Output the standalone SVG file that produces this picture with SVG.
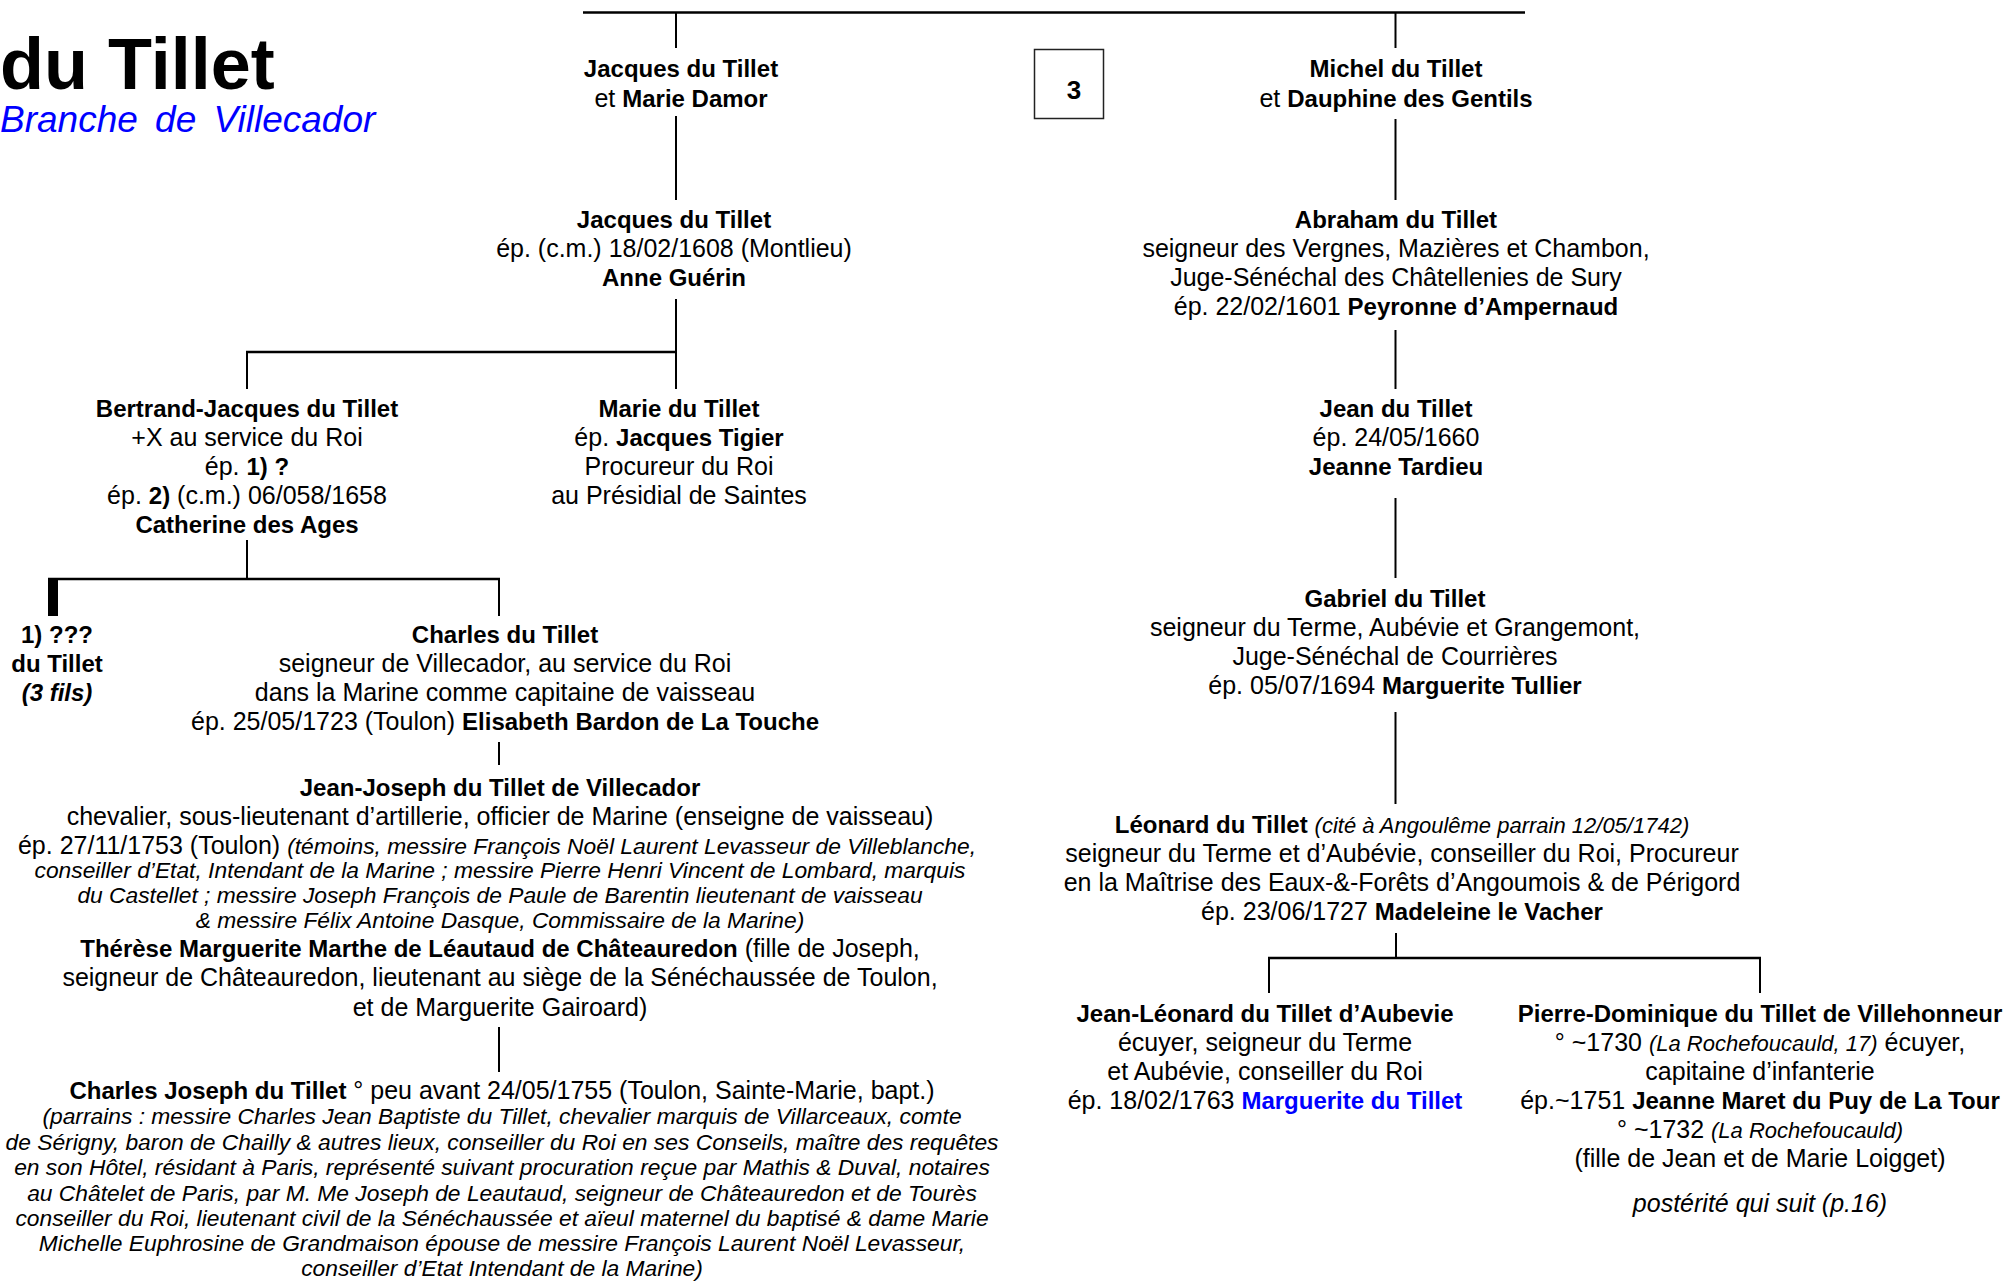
<svg xmlns="http://www.w3.org/2000/svg" width="2005" height="1283" viewBox="0 0 2005 1283">
<style>
text{font-family:"Liberation Sans",Arial,sans-serif;font-size:25px;fill:#000}
.t{text-anchor:middle}
.b{font-weight:bold;font-size:24px}
.i{font-style:italic}
.s{font-size:22.8px}
.s2{font-size:22px}
.blue{fill:#0000ff}
.ln{stroke:#000;stroke-width:2;fill:none}
.lw{stroke:#000;stroke-width:2.5;fill:none}
</style>
<rect width="2005" height="1283" fill="#fff"/>
<g id="title">
<text x="0" y="89" style="font-size:72px;font-weight:bold">du Tillet</text>
<text x="0" y="132" class="i blue" style="font-size:37px;word-spacing:7px">Branche de Villecador</text>
</g>
<g id="connectors">
<line class="lw" x1="583" y1="12.5" x2="1525" y2="12.5"/>
<line class="ln" x1="676" y1="12" x2="676" y2="48"/>
<line class="ln" x1="676" y1="116" x2="676" y2="200"/>
<line class="ln" x1="676" y1="299" x2="676" y2="389"/>
<line class="lw" x1="246" y1="352" x2="677" y2="352"/>
<line class="ln" x1="247" y1="352" x2="247" y2="389"/>
<line class="ln" x1="247" y1="540" x2="247" y2="579"/>
<line class="lw" x1="48" y1="579" x2="500" y2="579"/>
<rect x="48" y="578" width="10" height="38" fill="#000"/>
<line class="ln" x1="499" y1="579" x2="499" y2="616"/>
<line class="ln" x1="499" y1="742" x2="499" y2="765"/>
<line class="ln" x1="499" y1="1027" x2="499" y2="1072"/>
<line class="ln" x1="1395.5" y1="12" x2="1395.5" y2="48"/>
<line class="ln" x1="1395.5" y1="119" x2="1395.5" y2="200"/>
<line class="ln" x1="1395.5" y1="330" x2="1395.5" y2="389"/>
<line class="ln" x1="1395.5" y1="498" x2="1395.5" y2="578"/>
<line class="ln" x1="1395.5" y1="712" x2="1395.5" y2="804"/>
<line class="ln" x1="1396" y1="933" x2="1396" y2="958"/>
<line class="lw" x1="1268" y1="958" x2="1761" y2="958"/>
<line class="ln" x1="1269" y1="958" x2="1269" y2="993"/>
<line class="ln" x1="1760" y1="958" x2="1760" y2="993"/>
</g>
<g id="box3">
<rect x="1034.5" y="49.5" width="69" height="69" fill="#fff" stroke="#222" stroke-width="1.5"/>
<text x="1074" y="99" class="t" style="font-size:26px;font-weight:bold">3</text>
</g>
<g id="jacques-marie-damor">
<text x="681" y="77" class="t b">Jacques du Tillet</text>
<text x="681" y="107" class="t">et <tspan class="b">Marie Damor</tspan></text>
</g>
<g id="jacques-anne-guerin">
<text x="674" y="228" class="t b">Jacques du Tillet</text>
<text x="674" y="257" class="t">ép. (c.m.) 18/02/1608 (Montlieu)</text>
<text x="674" y="286" class="t b">Anne Guérin</text>
</g>
<g id="bertrand-jacques">
<text x="247" y="417" class="t b">Bertrand-Jacques du Tillet</text>
<text x="247" y="446" class="t">+X au service du Roi</text>
<text x="247" y="475" class="t">ép. <tspan class="b">1) ?</tspan></text>
<text x="247" y="504" class="t">ép. <tspan class="b">2)</tspan> (c.m.) 06/058/1658</text>
<text x="247" y="533" class="t b">Catherine des Ages</text>
</g>
<g id="marie-du-tillet">
<text x="679" y="417" class="t b">Marie du Tillet</text>
<text x="679" y="446" class="t">ép. <tspan class="b">Jacques Tigier</tspan></text>
<text x="679" y="475" class="t">Procureur du Roi</text>
<text x="679" y="504" class="t">au Présidial de Saintes</text>
</g>
<g id="fils-1">
<text x="57" y="643" class="t b">1) ???</text>
<text x="57" y="672" class="t b">du Tillet</text>
<text x="57" y="701" class="t b i">(3 fils)</text>
</g>
<g id="charles-du-tillet">
<text x="505" y="643" class="t b">Charles du Tillet</text>
<text x="505" y="672" class="t">seigneur de Villecador, au service du Roi</text>
<text x="505" y="701" class="t">dans la Marine comme capitaine de vaisseau</text>
<text x="505" y="730" class="t">ép. 25/05/1723 (Toulon) <tspan class="b">Elisabeth Bardon de La Touche</tspan></text>
</g>
<g id="jean-joseph">
<text x="500" y="796" class="t b">Jean-Joseph du Tillet de Villecador</text>
<text x="500" y="825" class="t">chevalier, sous-lieutenant d’artillerie, officier de Marine (enseigne de vaisseau)</text>
<text x="497" y="854" class="t">ép. 27/11/1753 (Toulon) <tspan class="i s">(témoins, messire François Noël Laurent Levasseur de Villeblanche,</tspan></text>
<text x="500" y="878" class="t i s">conseiller d’Etat, Intendant de la Marine ; messire Pierre Henri Vincent de Lombard, marquis</text>
<text x="500" y="903" class="t i s">du Castellet ; messire Joseph François de Paule de Barentin lieutenant de vaisseau</text>
<text x="500" y="928" class="t i s">&amp; messire Félix Antoine Dasque, Commissaire de la Marine)</text>
<text x="500" y="957" class="t"><tspan class="b">Thérèse Marguerite Marthe de Léautaud de Châteauredon</tspan> (fille de Joseph,</text>
<text x="500" y="986" class="t">seigneur de Châteauredon, lieutenant au siège de la Sénéchaussée de Toulon,</text>
<text x="500" y="1016" class="t">et de Marguerite Gairoard)</text>
</g>
<g id="charles-joseph">
<text x="502" y="1099" class="t"><tspan class="b">Charles Joseph du Tillet</tspan> ° peu avant 24/05/1755 (Toulon, Sainte-Marie, bapt.)</text>
<text x="502" y="1124" class="t i s">(parrains : messire Charles Jean Baptiste du Tillet, chevalier marquis de Villarceaux, comte</text>
<text x="502" y="1150" class="t i s">de Sérigny, baron de Chailly &amp; autres lieux, conseiller du Roi en ses Conseils, maître des requêtes</text>
<text x="502" y="1175" class="t i s">en son Hôtel, résidant à Paris, représenté suivant procuration reçue par Mathis &amp; Duval, notaires</text>
<text x="502" y="1201" class="t i s">au Châtelet de Paris, par M. Me Joseph de Leautaud, seigneur de Châteauredon et de Tourès</text>
<text x="502" y="1226" class="t i s">conseiller du Roi, lieutenant civil de la Sénéchaussée et aïeul maternel du baptisé &amp; dame Marie</text>
<text x="502" y="1251" class="t i s">Michelle Euphrosine de Grandmaison épouse de messire François Laurent Noël Levasseur,</text>
<text x="502" y="1276" class="t i s">conseiller d’Etat Intendant de la Marine)</text>
</g>
<g id="michel">
<text x="1396" y="77" class="t b">Michel du Tillet</text>
<text x="1396" y="107" class="t">et <tspan class="b">Dauphine des Gentils</tspan></text>
</g>
<g id="abraham">
<text x="1396" y="228" class="t b">Abraham du Tillet</text>
<text x="1396" y="257" class="t">seigneur des Vergnes, Mazières et Chambon,</text>
<text x="1396" y="286" class="t">Juge-Sénéchal des Châtellenies de Sury</text>
<text x="1396" y="315" class="t">ép. 22/02/1601 <tspan class="b">Peyronne d’Ampernaud</tspan></text>
</g>
<g id="jean">
<text x="1396" y="417" class="t b">Jean du Tillet</text>
<text x="1396" y="446" class="t">ép. 24/05/1660</text>
<text x="1396" y="475" class="t b">Jeanne Tardieu</text>
</g>
<g id="gabriel">
<text x="1395" y="607" class="t b">Gabriel du Tillet</text>
<text x="1395" y="636" class="t">seigneur du Terme, Aubévie et Grangemont,</text>
<text x="1395" y="665" class="t">Juge-Sénéchal de Courrières</text>
<text x="1395" y="694" class="t">ép. 05/07/1694 <tspan class="b">Marguerite Tullier</tspan></text>
</g>
<g id="leonard">
<text x="1402" y="833" class="t"><tspan class="b">Léonard du Tillet</tspan> <tspan class="i s2">(cité à Angoulême parrain 12/05/1742)</tspan></text>
<text x="1402" y="862" class="t">seigneur du Terme et d’Aubévie, conseiller du Roi, Procureur</text>
<text x="1402" y="891" class="t">en la Maîtrise des Eaux-&amp;-Forêts d’Angoumois &amp; de Périgord</text>
<text x="1402" y="920" class="t">ép. 23/06/1727 <tspan class="b">Madeleine le Vacher</tspan></text>
</g>
<g id="jean-leonard">
<text x="1265" y="1022" class="t b">Jean-Léonard du Tillet d’Aubevie</text>
<text x="1265" y="1051" class="t">écuyer, seigneur du Terme</text>
<text x="1265" y="1080" class="t">et Aubévie, conseiller du Roi</text>
<text x="1265" y="1109" class="t">ép. 18/02/1763 <tspan class="b blue">Marguerite du Tillet</tspan></text>
</g>
<g id="pierre-dominique">
<text x="1760" y="1022" class="t b">Pierre-Dominique du Tillet de Villehonneur</text>
<text x="1760" y="1051" class="t">° ~1730 <tspan class="i s2">(La Rochefoucauld, 17)</tspan> écuyer,</text>
<text x="1760" y="1080" class="t">capitaine d’infanterie</text>
<text x="1760" y="1109" class="t">ép.~1751 <tspan class="b">Jeanne Maret du Puy de La Tour</tspan></text>
<text x="1760" y="1138" class="t">° ~1732 <tspan class="i s2">(La Rochefoucauld)</tspan></text>
<text x="1760" y="1167" class="t">(fille de Jean et de Marie Loigget)</text>
<text x="1760" y="1212" class="t i">postérité qui suit (p.16)</text>
</g>
</svg>
